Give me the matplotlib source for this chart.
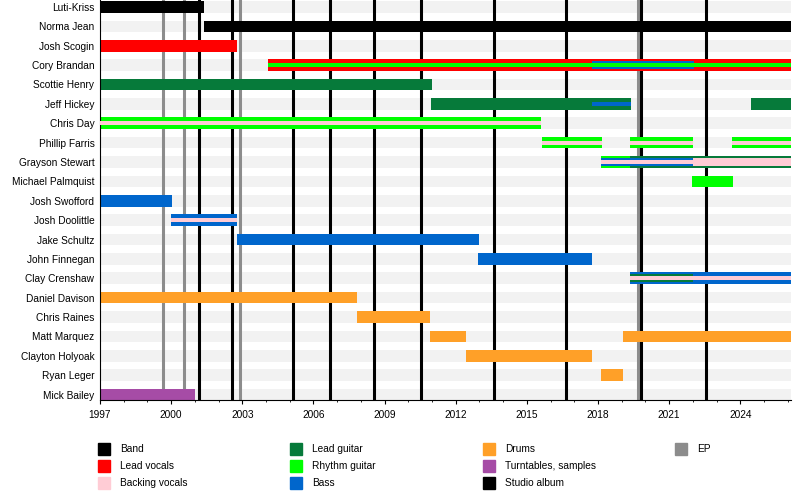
import matplotlib.pyplot as plt
from matplotlib.patches import Rectangle

plt.rcParams["font.family"] = ["Liberation Sans", "DejaVu Sans"]

members = ["Luti-Kriss", "Norma Jean", "Josh Scogin", "Cory Brandan", "Scottie Henry",
           "Jeff Hickey", "Chris Day", "Phillip Farris", "Grayson Stewart",
           "Michael Palmquist", "Josh Swofford", "Josh Doolittle", "Jake Schultz",
           "John Finnegan", "Clay Crenshaw", "Daniel Davison", "Chris Raines",
           "Matt Marquez", "Clayton Holyoak", "Ryan Leger", "Mick Bailey"]

START = 1997.0
END = 2026.15

# (member, role, from, till) - main role of a stint
primary = [
    ("Luti-Kriss", "Band", START, 2001.4),
    ("Norma Jean", "Band", 2001.4, END),
    ("Josh Scogin", "Lead vocals", START, 2002.78),
    ("Cory Brandan", "Lead vocals", 2004.1, END),
    ("Scottie Henry", "Lead guitar", START, 2011.0),
    ("Jeff Hickey", "Lead guitar", 2010.97, 2019.39),
    ("Jeff Hickey", "Lead guitar", 2024.47, END),
    ("Chris Day", "Rhythm guitar", START, 2015.6),
    ("Phillip Farris", "Rhythm guitar", 2015.66, 2018.18),
    ("Phillip Farris", "Rhythm guitar", 2019.36, 2022.02),
    ("Phillip Farris", "Rhythm guitar", 2023.67, END),
    ("Grayson Stewart", "Rhythm guitar", 2018.14, 2019.36),
    ("Grayson Stewart", "Lead guitar", 2019.36, END),
    ("Michael Palmquist", "Rhythm guitar", 2021.98, 2023.69),
    ("Josh Swofford", "Bass", START, 2000.04),
    ("Josh Doolittle", "Bass", 2000.0, 2002.78),
    ("Jake Schultz", "Bass", 2002.78, 2012.99),
    ("John Finnegan", "Bass", 2012.95, 2017.76),
    ("Clay Crenshaw", "Bass", 2019.36, END),
    ("Daniel Davison", "Drums", START, 2007.84),
    ("Chris Raines", "Drums", 2007.84, 2010.92),
    ("Matt Marquez", "Drums", 2010.9, 2012.44),
    ("Matt Marquez", "Drums", 2019.04, END),
    ("Clayton Holyoak", "Drums", 2012.43, 2017.76),
    ("Ryan Leger", "Drums", 2018.14, 2019.05),
    ("Mick Bailey", "Turntables, samples", START, 2001.0),
]

# second role
secondary = [
    ("Cory Brandan", "Bass", 2017.74, 2022.03),
    ("Grayson Stewart", "Bass", 2018.14, 2022.0),
    ("Grayson Stewart", "Backing vocals", 2022.0, END),
    ("Clay Crenshaw", "Lead guitar", 2019.36, 2022.0),
]

# third role
tertiary = [
    ("Cory Brandan", "Rhythm guitar", 2004.1, END),
    ("Jeff Hickey", "Bass", 2017.74, 2019.39),
    ("Chris Day", "Backing vocals", START, 2015.6),
    ("Phillip Farris", "Backing vocals", 2015.66, 2018.18),
    ("Phillip Farris", "Backing vocals", 2019.36, 2022.02),
    ("Phillip Farris", "Backing vocals", 2023.67, END),
    ("Grayson Stewart", "Backing vocals", 2018.14, 2022.0),
    ("Josh Doolittle", "Backing vocals", 2000.0, 2002.78),
    ("Clay Crenshaw", "Backing vocals", 2019.36, END),
]

studio_albums = [2001.19, 2002.58, 2005.16, 2006.68, 2008.57, 2010.53,
                 2013.6, 2016.66, 2019.81, 2022.57]
eps = [1999.67, 2000.56, 2002.92, 2019.71]

colors = {
    "Band": "#000000",
    "Lead vocals": "#ff0000",
    "Backing vocals": "#ffccd5",
    "Lead guitar": "#067a3a",
    "Rhythm guitar": "#00ff00",
    "Bass": "#0066cc",
    "Drums": "#ffa028",
    "Turntables, samples": "#a64ca6",
    "Studio album": "#000000",
    "EP": "#8c8c8c",
}
legend_cols = [["Band", "Lead vocals", "Backing vocals"],
               ["Lead guitar", "Rhythm guitar", "Bass"],
               ["Drums", "Turntables, samples", "Studio album"],
               ["EP"]]

fig = plt.figure(figsize=(8, 4.95), dpi=100)
ax = fig.add_axes([0.125, 1 - 400 / 495, 0.864, 400 / 495])

rows = {m: i for i, m in enumerate(members)}

# background stripes
ax.barh(range(len(members)), END - START, left=START, height=0.6,
        color="#f2f2f2", zorder=0)

for x in eps:
    ax.axvline(x, color=colors["EP"], lw=2.2, zorder=1)
for x in studio_albums:
    ax.axvline(x, color=colors["Studio album"], lw=2.2, zorder=1)

for layer, h, z in [(primary, 0.6, 2), (secondary, 0.4, 3), (tertiary, 0.2, 4)]:
    for m, role, a, b in layer:
        ax.barh(rows[m], b - a, left=a, height=h, color=colors[role], zorder=z)

ax.set_xlim(START, END)
ax.set_ylim(len(members) - 1 + 0.28, -0.36)
ax.set_yticks(range(len(members)))
ax.set_yticklabels(members, fontsize=7.3)
ax.tick_params(axis="y", length=0, pad=4)
ax.set_xticks(range(1997, 2026, 3))
ax.set_xticks(range(1997, 2027), minor=True)
ax.tick_params(axis="x", which="major", length=3, labelsize=7.3, pad=4.5)
ax.tick_params(axis="x", which="minor", length=1.5)
for s in ["top", "right"]:
    ax.spines[s].set_visible(False)
ax.spines["left"].set_linewidth(0.8)
ax.spines["bottom"].set_linewidth(0.8)

# legend
col_x = [98, 290, 483, 675]
row_y = [449, 466, 483]
for cx, entries in zip(col_x, legend_cols):
    for ry, name in zip(row_y, entries):
        fig.add_artist(Rectangle((cx / 800, 1 - (ry + 6) / 495), 12 / 800, 12 / 495,
                                 color=colors[name], transform=fig.transFigure))
        fig.text((cx + 22) / 800, 1 - ry / 495, name, fontsize=7.3, va="center")

fig.savefig("out.png", dpi=100)
